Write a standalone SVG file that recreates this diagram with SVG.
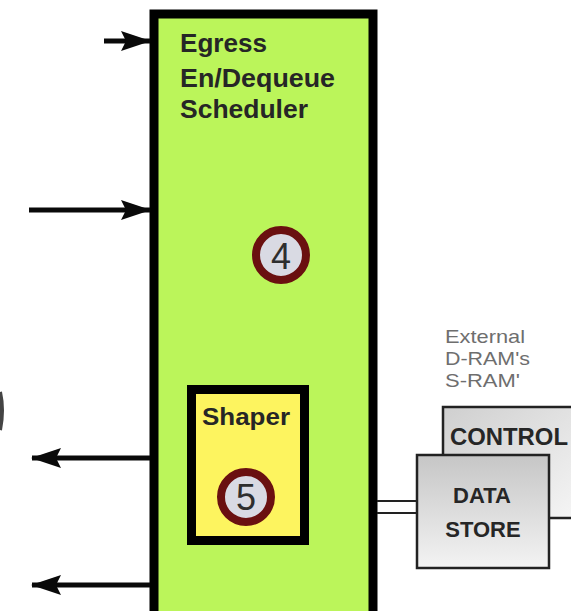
<svg xmlns="http://www.w3.org/2000/svg" width="571" height="611" viewBox="0 0 571 611">
<style>
.lbl{font-family:"Liberation Sans",Arial,sans-serif;font-weight:bold;fill:#262626}
.ext{font-family:"Liberation Sans",Arial,sans-serif;font-size:19px;fill:#6e6e6e}
.num{font-family:"Liberation Sans",Arial,sans-serif;font-size:36px;fill:#2e2e2e;text-anchor:middle}
.ring{fill:#d9dae3;stroke:#6a1010;stroke-width:8}
.wire{stroke:#0a0a0a;stroke-width:5;fill:none}
.bus{stroke:#222;stroke-width:2;fill:none}
.mem{stroke:#222;stroke-width:2.5}
</style>
<defs>
<marker id="ah" viewBox="0 0 30 22" refX="29" refY="11" markerWidth="30" markerHeight="22" markerUnits="userSpaceOnUse" orient="auto">
<path d="M0,1 L30,11 L0,21 L5,11 Z" fill="#0a0a0a"/>
</marker>
<linearGradient id="gs" x1="0" y1="0" x2="0" y2="1">
<stop offset="0" stop-color="#c6c6c6"/>
<stop offset="1" stop-color="#f3f3f3"/>
</linearGradient>
<linearGradient id="gc" x1="0" y1="0" x2="1" y2="1">
<stop offset="0" stop-color="#cfcfcf"/>
<stop offset="1" stop-color="#f6f6f6"/>
</linearGradient>
</defs>
<rect width="571" height="611" fill="#ffffff"/>

<g id="partial-mark">
<path d="M0,392 Q4,410 0,430" stroke="#444" stroke-width="4" fill="none"/>
</g>

<g id="scheduler">
<rect x="154" y="14" width="219" height="610" fill="#bbf55a" stroke="#000" stroke-width="9"/>
<text class="lbl" font-size="26" x="180" y="52" textLength="87" lengthAdjust="spacingAndGlyphs">Egress</text>
<text class="lbl" font-size="26" x="180" y="87" textLength="155" lengthAdjust="spacingAndGlyphs">En/Dequeue</text>
<text class="lbl" font-size="26" x="180" y="118" textLength="128" lengthAdjust="spacingAndGlyphs">Scheduler</text>
</g>

<g id="badge-4">
<circle class="ring" cx="281" cy="255" r="25"/>
<text class="num" x="281" y="269">4</text>
</g>

<g id="shaper">
<rect x="191.5" y="389.5" width="113" height="151" fill="#fdf45f" stroke="#000" stroke-width="9"/>
<text class="lbl" font-size="24" x="202" y="425" textLength="88" lengthAdjust="spacingAndGlyphs">Shaper</text>
</g>

<g id="badge-5">
<circle class="ring" cx="246" cy="497" r="25"/>
<text class="num" x="246" y="510">5</text>
</g>

<g id="ext-label">
<text class="ext" x="445" y="343" textLength="80" lengthAdjust="spacingAndGlyphs">External</text>
<text class="ext" x="445" y="365" textLength="85" lengthAdjust="spacingAndGlyphs">D-RAM's</text>
<text class="ext" x="445" y="387" textLength="75" lengthAdjust="spacingAndGlyphs">S-RAM'</text>
</g>

<g id="control">
<rect class="mem" x="443" y="407" width="140" height="111" fill="url(#gc)"/>
<text class="lbl" font-size="23" x="450" y="445" textLength="118" lengthAdjust="spacingAndGlyphs">CONTROL</text>
</g>

<g id="data-store">
<rect class="mem" x="417" y="455" width="132" height="113" fill="url(#gs)"/>
<text class="lbl" font-size="22" x="482" y="503" text-anchor="middle">DATA</text>
<text class="lbl" font-size="22" x="483" y="537" text-anchor="middle">STORE</text>
</g>

<g id="connectors">
<path class="wire" d="M104,41 H150" marker-end="url(#ah)"/>
<path class="wire" d="M29,210 H150" marker-end="url(#ah)"/>
<path class="wire" d="M150,458 H32" marker-end="url(#ah)"/>
<path class="wire" d="M150,585 H32" marker-end="url(#ah)"/>
<path class="bus" d="M377,501 H417"/>
<path class="bus" d="M377,513 H417"/>
</g>
</svg>
